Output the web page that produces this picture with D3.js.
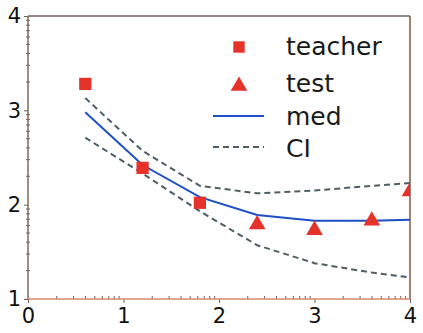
<!DOCTYPE html>
<html><head><meta charset="utf-8">
<script src="https://cdn.jsdelivr.net/npm/d3@7"></script>
<style>html,body{margin:0;padding:0;background:#fff;}svg{display:block;}</style>
</head><body>
<svg id="c" width="423" height="333"></svg>
<script>
const teacherX = [0.6, 1.2, 1.8];
const teacherY = [3.28, 2.39, 2.02];
const testX = [2.4, 3.0, 3.6, 4.0];
const testY = [1.80, 1.74, 1.84, 2.15];
const gridX = [0.6, 1.2, 1.8, 2.4, 3.0, 3.6, 4.0];
const medY = [2.98, 2.42, 2.08, 1.89, 1.83, 1.83, 1.84];
const ciUpper = [3.13, 2.57, 2.20, 2.12, 2.15, 2.20, 2.23];
const ciLower = [2.71, 2.33, 1.93, 1.57, 1.38, 1.28, 1.23];
const xTicks = [0, 1, 2, 3, 4];
const yTicks = [1, 2, 3, 4];
const legendLabels = ["teacher", "test", "med", "CI"];

const svg = d3.select("#c");
const L = 28, R = 410, T = 16, B = 299;
const x = d3.scaleLinear().domain([0, 4]).range([L, R]);
const y = d3.scaleLinear().domain([1, 4]).range([B, T]);
const red = "#e5322b", blue = "#1f4fc4", ciCol = "#4d5f66";
const axCol = "#6f6058", axBottom = "#d9896a";

const minor = [];
for (let n = 0; n < 4; n++) for (let k = 2; k <= 9; k++) minor.push(n + Math.log10(k));
const minorY = [];
for (let n = 1; n < 4; n++) for (let k = 2; k <= 9; k++) minorY.push(n + Math.log10(k));

svg.append("clipPath").attr("id", "clp").append("rect")
  .attr("x", L).attr("y", T).attr("width", R - L).attr("height", B - T);

const xAxis = d3.axisBottom(x).tickValues(xTicks).tickSize(4).tickFormat(d3.format("d"));
const gx = svg.append("g").attr("transform", `translate(0,${B})`).call(xAxis);
gx.select(".domain").remove();
gx.selectAll(".tick line").attr("stroke", axCol);
gx.selectAll(".tick text").attr("font-family", "DejaVu Sans").attr("font-size", 21).attr("fill", "#111").attr("dy", "0.72em").attr("y", 9);
svg.append("g").selectAll("line").data(minor).join("line")
  .attr("x1", d => x(d)).attr("x2", d => x(d)).attr("y1", B - 3).attr("y2", B)
  .attr("stroke", axCol).attr("stroke-width", 1);

const yAxis = d3.axisLeft(y).tickValues(yTicks).tickSize(4).tickFormat(d3.format("d"));
const gy = svg.append("g").attr("transform", `translate(${L},0)`).call(yAxis);
gy.select(".domain").remove();
gy.selectAll(".tick line").attr("stroke", axCol);
gy.selectAll(".tick text").attr("font-family", "DejaVu Sans").attr("font-size", 21).attr("fill", "#111").attr("x", -7);
svg.append("g").selectAll("line").data(minorY).join("line")
  .attr("x1", L - 2).attr("x2", L + 2).attr("y1", d => y(d)).attr("y2", d => y(d))
  .attr("stroke", axCol).attr("stroke-width", 1);

svg.append("line").attr("x1", L).attr("x2", R).attr("y1", T).attr("y2", T).attr("stroke", axCol).attr("stroke-width", 1.5);
svg.append("line").attr("x1", R).attr("x2", R).attr("y1", T).attr("y2", B).attr("stroke", "#7a5a4a").attr("stroke-width", 1.5);
svg.append("line").attr("x1", L).attr("x2", L).attr("y1", T).attr("y2", B).attr("stroke", "#7a6a5e").attr("stroke-width", 1.5);
svg.append("line").attr("x1", L).attr("x2", R).attr("y1", B).attr("y2", B).attr("stroke", axBottom).attr("stroke-width", 1.5);

const plot = svg.append("g").attr("clip-path", "url(#clp)");
const line = (ys) => d3.line().x((d, i) => x(gridX[i])).y(d => y(d))(ys);
plot.append("path").attr("d", line(ciUpper)).attr("fill", "none").attr("stroke", ciCol).attr("stroke-width", 2).attr("stroke-dasharray", "6,4");
plot.append("path").attr("d", line(ciLower)).attr("fill", "none").attr("stroke", ciCol).attr("stroke-width", 2).attr("stroke-dasharray", "6,4");
plot.append("path").attr("d", line(medY)).attr("fill", "none").attr("stroke", blue).attr("stroke-width", 2);

const sq = d3.symbol().type(d3.symbolSquare).size(150);
const tri = d3.symbol().type(d3.symbolTriangle).size(120);
plot.selectAll(".sq").data(teacherX).join("path").attr("d", sq)
  .attr("transform", (d, i) => `translate(${x(d)},${y(teacherY[i])})`).attr("fill", red);
plot.selectAll(".tri").data(testX).join("path").attr("d", tri)
  .attr("transform", (d, i) => `translate(${x(d)},${y(testY[i]) + 1})`).attr("fill", red);

const lg = svg.append("g");
const rows = [47, 86, 116, 147];
const baselines = [55, 92, 125, 157];
lg.append("path").attr("d", d3.symbol().type(d3.symbolSquare).size(130)).attr("transform", `translate(239,${rows[0]})`).attr("fill", red);
lg.append("path").attr("d", tri).attr("transform", `translate(239,${rows[1]})`).attr("fill", red);
lg.append("line").attr("x1", 213).attr("x2", 264).attr("y1", rows[2]).attr("y2", rows[2]).attr("stroke", blue).attr("stroke-width", 2);
lg.append("line").attr("x1", 213).attr("x2", 264).attr("y1", rows[3]).attr("y2", rows[3]).attr("stroke", ciCol).attr("stroke-width", 2).attr("stroke-dasharray", "6,4");
lg.selectAll("text").data(legendLabels).join("text")
  .attr("x", 286).attr("y", (d, i) => baselines[i])
  .attr("font-family", "DejaVu Sans").attr("font-size", 25).attr("fill", "#1a1a1a")
  .text(d => d);
</script>
</body></html>
